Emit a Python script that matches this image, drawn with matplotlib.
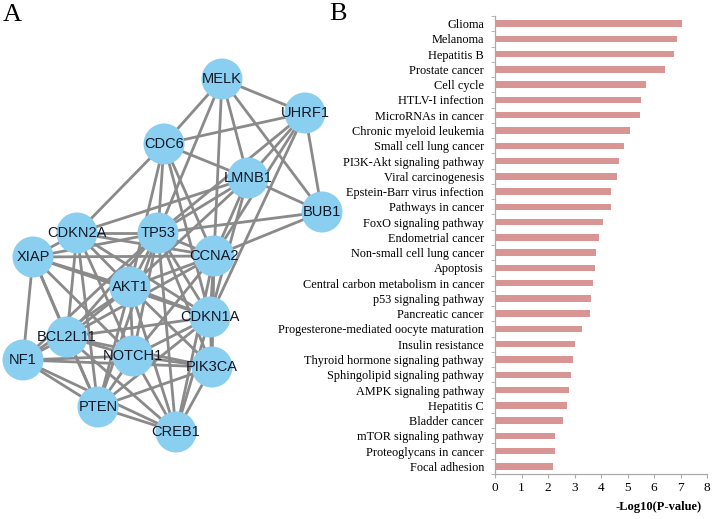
import matplotlib.pyplot as plt
from matplotlib.patches import Circle
from matplotlib.ticker import MultipleLocator

## Data
# panel A: network layout (pixel positions of the nodes) and edges
node_names = ['MELK', 'UHRF1', 'CDC6', 'LMNB1', 'BUB1', 'CDKN2A', 'TP53', 'CCNA2',
              'XIAP', 'AKT1', 'CDKN1A', 'BCL2L11', 'NF1', 'NOTCH1', 'PIK3CA',
              'PTEN', 'CREB1']
node_x = [222, 305, 164, 248, 322, 77, 158, 214, 33, 130, 210, 67, 23, 133, 212, 98, 176]
node_y = [79, 113, 144, 178, 212, 233, 233, 256, 257, 287, 317, 337, 360, 356, 367, 407, 432]

edges = [
    ('MELK', 'UHRF1'), ('MELK', 'CDC6'), ('MELK', 'LMNB1'), ('MELK', 'BUB1'),
    ('MELK', 'TP53'), ('MELK', 'CCNA2'),
    ('UHRF1', 'CDC6'), ('UHRF1', 'LMNB1'), ('UHRF1', 'BUB1'), ('UHRF1', 'TP53'),
    ('UHRF1', 'CCNA2'), ('UHRF1', 'CDKN1A'),
    ('CDC6', 'LMNB1'), ('CDC6', 'CDKN2A'), ('CDC6', 'TP53'), ('CDC6', 'CCNA2'),
    ('CDC6', 'CDKN1A'), ('CDC6', 'AKT1'),
    ('LMNB1', 'BUB1'), ('LMNB1', 'TP53'), ('LMNB1', 'CCNA2'), ('LMNB1', 'CDKN1A'),
    ('LMNB1', 'AKT1'), ('LMNB1', 'CDKN2A'),
    ('BUB1', 'TP53'), ('BUB1', 'CCNA2'),
    ('TP53', 'CDKN2A'), ('TP53', 'XIAP'), ('TP53', 'AKT1'), ('TP53', 'CCNA2'),
    ('TP53', 'CDKN1A'), ('TP53', 'BCL2L11'), ('TP53', 'NOTCH1'), ('TP53', 'PIK3CA'),
    ('TP53', 'PTEN'), ('TP53', 'CREB1'), ('TP53', 'NF1'),
    ('CDKN2A', 'XIAP'), ('CDKN2A', 'AKT1'), ('CDKN2A', 'CCNA2'), ('CDKN2A', 'CDKN1A'),
    ('CDKN2A', 'BCL2L11'), ('CDKN2A', 'NOTCH1'), ('CDKN2A', 'PTEN'),
    ('XIAP', 'CCNA2'), ('XIAP', 'AKT1'), ('XIAP', 'BCL2L11'), ('XIAP', 'NF1'),
    ('XIAP', 'NOTCH1'), ('XIAP', 'PTEN'), ('XIAP', 'CDKN1A'),
    ('AKT1', 'CCNA2'), ('AKT1', 'CDKN1A'), ('AKT1', 'BCL2L11'), ('AKT1', 'NF1'),
    ('AKT1', 'NOTCH1'), ('AKT1', 'PIK3CA'), ('AKT1', 'PTEN'), ('AKT1', 'CREB1'),
    ('CCNA2', 'CDKN1A'), ('CCNA2', 'PIK3CA'), ('CCNA2', 'CREB1'), ('CCNA2', 'BCL2L11'),
    ('CCNA2', 'NOTCH1'),
    ('CDKN1A', 'PIK3CA'), ('CDKN1A', 'CREB1'), ('CDKN1A', 'PTEN'), ('CDKN1A', 'BCL2L11'),
    ('CDKN1A', 'NOTCH1'),
    ('BCL2L11', 'NF1'), ('BCL2L11', 'NOTCH1'), ('BCL2L11', 'PIK3CA'), ('BCL2L11', 'PTEN'),
    ('BCL2L11', 'CREB1'),
    ('NF1', 'NOTCH1'), ('NF1', 'PIK3CA'), ('NF1', 'PTEN'), ('NF1', 'CREB1'),
    ('NOTCH1', 'PIK3CA'), ('NOTCH1', 'PTEN'), ('NOTCH1', 'CREB1'),
    ('PIK3CA', 'PTEN'), ('PIK3CA', 'CREB1'),
    ('PTEN', 'CREB1'),
]

# panel B: KEGG pathways and -log10(P)
pathways = ['Glioma', 'Melanoma', 'Hepatitis B', 'Prostate cancer', 'Cell cycle',
            'HTLV-I infection', 'MicroRNAs in cancer', 'Chronic myeloid leukemia',
            'Small cell lung cancer', 'PI3K-Akt signaling pathway', 'Viral carcinogenesis',
            'Epstein-Barr virus infection', 'Pathways in cancer', 'FoxO signaling pathway',
            'Endometrial cancer', 'Non-small cell lung cancer', 'Apoptosis',
            'Central carbon metabolism in cancer', 'p53 signaling pathway',
            'Pancreatic cancer', 'Progesterone-mediated oocyte maturation',
            'Insulin resistance', 'Thyroid hormone signaling pathway',
            'Sphingolipid signaling pathway', 'AMPK signaling pathway', 'Hepatitis C',
            'Bladder cancer', 'mTOR signaling pathway', 'Proteoglycans in cancer',
            'Focal adhesion']
neg_log_p = [7.06, 6.87, 6.75, 6.43, 5.70, 5.50, 5.46, 5.08, 4.86, 4.68, 4.60,
             4.38, 4.38, 4.07, 3.94, 3.83, 3.79, 3.70, 3.63, 3.60, 3.30, 3.00,
             2.96, 2.85, 2.81, 2.72, 2.57, 2.28, 2.27, 2.20]


## Figure
fig = plt.figure(figsize=(7.15, 5.19), dpi=100)

# panel A - network
axA = fig.add_axes([0, 0, 360 / 715, 1])
axA.set_xlim(0, 360)
axA.set_ylim(519, 0)
axA.axis('off')

pos = {n: (x, y) for n, x, y in zip(node_names, node_x, node_y)}
for a, b in edges:
    axA.plot([pos[a][0], pos[b][0]], [pos[a][1], pos[b][1]],
             color='#8a8a8a', lw=2.0, zorder=1, solid_capstyle='butt')
for n in node_names:
    axA.add_patch(Circle(pos[n], 20.5, facecolor='#8bcff0', edgecolor='none', zorder=2))
    axA.text(pos[n][0], pos[n][1], n, ha='center', va='center', fontsize=10.5,
             family='Liberation Sans', color='#111827', zorder=3)

fig.text(12 / 715, 1 - 15 / 519, 'A', fontsize=19, family='Liberation Serif',
         ha='center', va='center')
fig.text(338 / 715, 1 - 14 / 519, 'B', fontsize=19, family='Liberation Serif',
         ha='center', va='center')

# panel B - bar chart
axB = fig.add_axes([495 / 715, 45 / 519, 212 / 715, 458 / 519])
ypos = range(len(pathways))
axB.barh(ypos, neg_log_p, height=0.42, color='#d99494')
axB.set_ylim(len(pathways) - 0.5, -0.5)
axB.set_xlim(0, 8)
axB.set_yticks(list(ypos))
axB.set_yticklabels(pathways, family='Liberation Serif', fontsize=8.8)
axB.yaxis.set_minor_locator(MultipleLocator(1, offset=0.5))
axB.tick_params(axis='y', which='major', length=0, pad=8)
axB.tick_params(axis='y', which='minor', length=3, color='#aaaaaa', direction='out')
axB.xaxis.set_major_locator(MultipleLocator(1))
axB.tick_params(axis='x', length=3, color='#aaaaaa', labelsize=9.5, pad=3)
for lab in axB.get_xticklabels():
    lab.set_family('Liberation Serif')
for side in ['top', 'right']:
    axB.spines[side].set_visible(False)
for side in ['left', 'bottom']:
    axB.spines[side].set_color('#aaaaaa')
    axB.spines[side].set_linewidth(0.9)

fig.text(659 / 715, 1 - 507 / 519, '-Log10(P-value)', fontsize=9, fontweight='bold',
         family='Liberation Serif', ha='center', va='center')

plt.savefig('out.png', dpi=100)
